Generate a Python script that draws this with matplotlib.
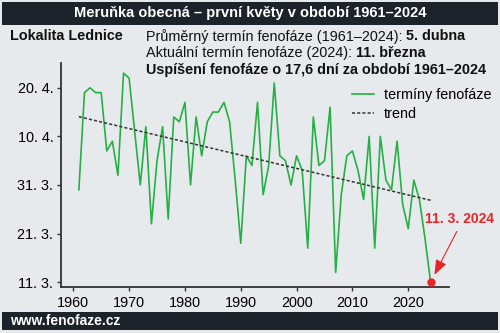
import matplotlib
matplotlib.use("Agg")
import matplotlib.pyplot as plt
from matplotlib.patches import Rectangle
import numpy as np

plt.rcParams['font.family'] = ['Liberation Sans', 'DejaVu Sans']

# rok a termín prvních květů (den počítaný od 1. března, duben = 31 + den)
years = list(range(1961, 2025))
days = [30, 50, 51, 50, 50, 38, 40, 33, 54, 53,
        42, 31, 43, 23, 36, 43, 24, 45, 44, 48,
        31, 45, 37, 44, 46, 46, 48, 44, 32, 19,
        37, 35, 48, 29, 35, 52, 37, 36, 31, 37,
        34, 18, 45, 35, 36, 47, 13, 29, 37, 38,
        34, 28, 41, 18, 41, 32, 30, 40, 27, 22,
        32, 28, 20, 11]
ytick_vals = [11, 21, 31, 41, 51]
ytick_labels = ['11. 3.', '21. 3.', '31. 3.', '10. 4.', '20. 4.']
xtick_vals = [1960, 1970, 1980, 1990, 2000, 2010, 2020]

BG = '#e6eaed'
DARK = '#1c232b'
GREEN = '#25b043'
RED = '#e8262a'
FS = 10.4

W, H = 500, 333
fig = plt.figure(figsize=(W / 100, H / 100), dpi=100, facecolor=BG)


def fx(x):
    return x / W


def fy(y):
    return 1 - y / H


# horní a spodní lišta
fig.patches.append(Rectangle((fx(2), fy(25)), fx(496), 23 / H, transform=fig.transFigure,
                             facecolor=DARK, edgecolor='none', zorder=0))
fig.patches.append(Rectangle((fx(2), fy(330)), fx(496), 18 / H, transform=fig.transFigure,
                             facecolor=DARK, edgecolor='none', zorder=0))
fig.text(0.5, fy(13.5), 'Meruňka obecná – první květy v období 1961–2024', color='white',
         fontsize=10.5, fontweight='bold', ha='center', va='center')
fig.text(fx(10), fy(321), 'www.fenofaze.cz', color='white', fontsize=10,
         fontweight='bold', ha='left', va='center')

fig.text(fx(10), fy(36.5), 'Lokalita Lednice', fontsize=FS, fontweight='bold',
         ha='left', va='center', color='#111111')

# informační řádky (část normálně, část tučně)
renderer = fig.canvas.get_renderer()
info = [('Průměrný termín fenofáze (1961–2024): ', '5. dubna'),
        ('Aktuální termín fenofáze (2024): ', '11. března'),
        ('', 'Uspíšení fenofáze o 17,6 dní za období 1961–2024')]
for i, (norm, bold) in enumerate(info):
    yy = fy(36.5 + i * 16.7)
    x0 = fx(146)
    if norm:
        t = fig.text(x0, yy, norm, fontsize=FS, ha='left', va='center', color='#111111')
        bb = t.get_window_extent(renderer)
        x0 = bb.x1 / fig.bbox.width
    fig.text(x0, yy, bold, fontsize=FS, fontweight='bold', ha='left', va='center', color='#111111')

ax = fig.add_axes([fx(61), fy(287), fx(388), 224 / H])
ax.set_facecolor(BG)

ax.plot(years, days, color=GREEN, lw=1.2, label='termíny fenofáze', zorder=3)
coef = np.polyfit(years, days, 1)
trend = np.polyval(coef, years)
ax.plot(years, trend, color='#333333', lw=1.1, ls=(0, (2.0, 1.4)), label='trend', zorder=4)
ax.plot(years[-1], days[-1], 'o', color=RED, ms=5, zorder=5)

ax.set_xlim(1957.8, 2027.3)
ax.set_ylim(10, 56.1)
ax.set_xticks(xtick_vals)
ax.set_yticks(ytick_vals)
ax.set_yticklabels(ytick_labels)
ax.tick_params(axis='both', labelsize=FS, length=3, width=1, color='#333333')
ax.tick_params(axis='y', pad=2.5)
ax.tick_params(axis='x', pad=3.5)
for s in ['top', 'right']:
    ax.spines[s].set_visible(False)
for s in ['left', 'bottom']:
    ax.spines[s].set_linewidth(1.3)
    ax.spines[s].set_color('#333333')

ax.legend(loc='upper left', bbox_to_anchor=(0.736, 0.912), frameon=False, fontsize=FS,
          handlelength=1.5, handletextpad=0.7, labelspacing=0.3, borderaxespad=0)

ax.annotate('11. 3. 2024', xy=(years[-1], days[-1]), xytext=(20.7, 45.5),
            textcoords='offset points', ha='center', va='center', color=RED,
            fontsize=10, fontweight='bold', annotation_clip=False)
ax.annotate('', xy=(years[-1], days[-1]), xytext=(18.9, 36.5), textcoords='offset points',
            arrowprops=dict(arrowstyle='-|>,head_length=0.9,head_width=0.35', color=RED,
                            lw=0.8, shrinkA=0, shrinkB=6, mutation_scale=10),
            annotation_clip=False)

fig.savefig('out.png', dpi=100, facecolor=BG)
